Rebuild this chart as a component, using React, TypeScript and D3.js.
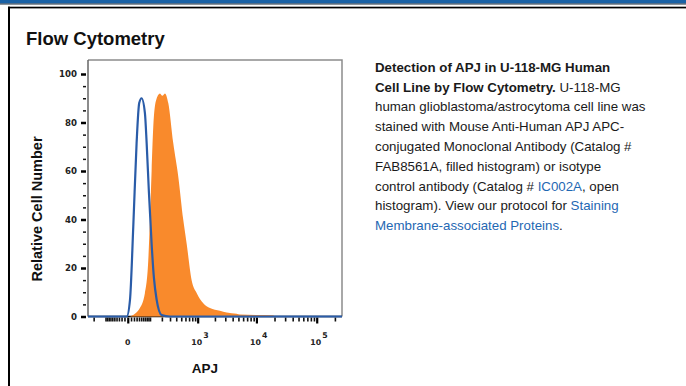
import React, { useEffect, useRef } from "react";
import * as d3 from "d3";

// APJ intensity / relative cell number
const apjValues = [-266, -3, 6.6, 17.5, 30, 41, 52, 69, 79, 93, 111, 128, 150, 197, 299, 262143];
const isotypeCounts = [0, 0, 6.8, 37, 71.5, 88, 90, 84, 71.5, 51, 30, 16, 7, 0.6, 0, 0];

const stainedValues = [6.6, 44, 69, 88.7, 99.6, 111, 123, 144.5, 181, 205, 234, 276, 349, 438, 545, 632, 779, 959, 1255, 1642, 2436, 3167, 4666, 5300, 18818, 20318];
const stainedCounts = [0, 3.5, 9.6, 23, 40, 60, 78, 89, 92, 91, 92, 88, 71.5, 57.7, 40, 30, 15, 9.7, 5.5, 3.5, 2.4, 1.7, 1.1, 0.8, 0.5, 0];

const yMajorTicks = [0, 20, 40, 60, 80, 100];
const xMajorTicks = [0, 1000, 10000, 100000];
const xMajorExponents = ["", "3", "4", "5"];

const descLines = [
  [{ t: "Detection of APJ in U-118-MG Human", b: true }],
  [{ t: "Cell Line by Flow Cytometry.", b: true }, { t: " U-118-MG" }],
  [{ t: "human glioblastoma/astrocytoma cell line was" }],
  [{ t: "stained with Mouse Anti-Human APJ APC-" }],
  [{ t: "conjugated Monoclonal Antibody (Catalog #" }],
  [{ t: "FAB8561A, filled histogram) or isotype" }],
  [{ t: "control antibody (Catalog # " }, { t: "IC002A", link: true }, { t: ", open" }],
  [{ t: "histogram). View our protocol for " }, { t: "Staining", link: true }],
  [{ t: "Membrane-associated Proteins", link: true }, { t: "." }],
];

const W = 686, H = 386;
const font = "'Liberation Sans', Arial, sans-serif";
const tickFont = "'DejaVu Sans', Verdana, sans-serif";

export default function App() {
  const ref = useRef<SVGSVGElement>(null);

  useEffect(() => {
    const svg = d3.select(ref.current);
    svg.selectAll("*").remove();

    // page frame
    svg.append("rect").attr("x", 0).attr("y", 0).attr("width", W).attr("height", 3.5).attr("fill", "#1a62a6");
    svg.append("rect").attr("x", 0).attr("y", 3.5).attr("width", W).attr("height", 1).attr("fill", "#1b2a3a");
    svg.append("rect").attr("x", 8).attr("y", 6.7).attr("width", W - 8).attr("height", 1.3).attr("fill", "#000");
    svg.append("rect").attr("x", 8).attr("y", 8).attr("width", W - 8).attr("height", 1).attr("fill", "#999");
    svg.append("rect").attr("x", 8).attr("y", 6.7).attr("width", 2).attr("height", H).attr("fill", "#000");

    svg.append("text").attr("x", 26).attr("y", 45)
      .attr("font-family", font).attr("font-weight", "bold").attr("font-size", 18.5)
      .attr("fill", "#111").text("Flow Cytometry");

    const left = 88, right = 342, top = 60, bottom = 316.5;

    const x = d3.scaleSymlog().constant(75).domain([-266, 262143]).range([left, right]);
    const y = d3.scaleLinear().domain([0, 100]).range([bottom, 74]);

    // plot frame
    svg.append("path")
      .attr("d", `M${left},${top}H${right}V${bottom}`)
      .attr("fill", "none").attr("stroke", "#8c8c8c").attr("stroke-width", 1.5);
    svg.append("line").attr("x1", left).attr("x2", left).attr("y1", top).attr("y2", bottom)
      .attr("stroke", "#666").attr("stroke-width", 1.5);

    // y axis
    const yMinor = d3.range(5, 101, 5).filter((v) => v % 20 !== 0);
    const gyMinor = svg.append("g").attr("transform", `translate(${left - 2},0)`)
      .call(d3.axisLeft(y).tickValues(yMinor).tickSize(3).tickFormat(() => ""));
    gyMinor.select(".domain").remove();
    gyMinor.selectAll("line").attr("stroke", "#111").attr("stroke-width", 1.5);

    const gy = svg.append("g").attr("transform", `translate(${left - 2},0)`)
      .call(d3.axisLeft(y).tickValues(yMajorTicks).tickSize(5).tickPadding(4));
    gy.select(".domain").remove();
    gy.selectAll("line").attr("stroke", "#000").attr("stroke-width", 2.5);
    gy.selectAll("text").attr("font-family", tickFont).attr("font-weight", "bold")
      .attr("font-size", 8.6).attr("fill", "#222");

    // x axis (logicle-like)
    const xMinor: number[] = [-200, -100, -90, -80, -70, -60, -50, -40, -30, -20, -10];
    [10, 100, 1000, 10000].forEach((d) => {
      for (let i = 1; i < 10; i++) xMinor.push(d * i);
    });
    xMinor.push(200000);
    const minorOnly = xMinor.filter((v) => !xMajorTicks.includes(v));

    const gxMinor = svg.append("g").attr("transform", `translate(0,${bottom + 1})`)
      .call(d3.axisBottom(x).tickValues(minorOnly).tickSize(4).tickFormat(() => ""));
    gxMinor.select(".domain").remove();
    gxMinor.selectAll("line").attr("stroke", "#111").attr("stroke-width", 1.6);

    const gx = svg.append("g").attr("transform", `translate(0,${bottom + 1})`)
      .call(d3.axisBottom(x).tickValues(xMajorTicks).tickSize(6).tickFormat(() => ""));
    gx.select(".domain").remove();
    gx.selectAll("line").attr("stroke", "#000").attr("stroke-width", 2.2);

    xMajorTicks.forEach((v, i) => {
      const g = svg.append("g").attr("font-family", tickFont).attr("font-weight", "bold").attr("fill", "#222");
      if (xMajorExponents[i] === "") {
        g.append("text").attr("x", x(v)).attr("y", 345).attr("text-anchor", "middle")
          .attr("font-size", 7.8).text("0");
      } else {
        g.append("text").attr("x", x(v) - 1).attr("y", 345).attr("text-anchor", "middle")
          .attr("font-size", 7.8).text("10");
        g.append("text").attr("x", x(v) + 5.5).attr("y", 337.5)
          .attr("font-size", 7.8).text(xMajorExponents[i]);
      }
    });

    svg.append("line").attr("x1", left).attr("x2", right).attr("y1", bottom).attr("y2", bottom)
      .attr("stroke", "#111").attr("stroke-width", 1.5);

    // filled histogram
    const stained = stainedValues.map((v, i) => [v, stainedCounts[i]] as [number, number]);
    svg.append("path")
      .datum(stained)
      .attr("d", d3.area<[number, number]>().x((d) => x(d[0])).y0(bottom).y1((d) => y(d[1])).curve(d3.curveMonotoneX))
      .attr("fill", "#f98a2c");

    // isotype histogram
    const isotype = apjValues.map((v, i) => [v, isotypeCounts[i]] as [number, number]);
    svg.append("path")
      .datum(isotype)
      .attr("d", d3.line<[number, number]>().x((d) => x(d[0])).y((d) => y(d[1])).curve(d3.curveMonotoneX))
      .attr("fill", "none").attr("stroke", "#2a5ca8").attr("stroke-width", 2.2);

    // axis titles
    svg.append("text").attr("x", 205).attr("y", 373).attr("text-anchor", "middle")
      .attr("font-family", font).attr("font-weight", "bold").attr("font-size", 13.5)
      .attr("fill", "#111").text("APJ");
    svg.append("text").attr("transform", "translate(42,209) rotate(-90)").attr("text-anchor", "middle")
      .attr("font-family", font).attr("font-weight", "bold").attr("font-size", 14.5)
      .attr("fill", "#111").text("Relative Cell Number");

    // description
    descLines.forEach((line, i) => {
      const t = svg.append("text").attr("x", 375).attr("y", 71.7 + i * 19.8)
        .attr("font-family", font).attr("font-size", 13.3).attr("fill", "#1a1a1a");
      line.forEach((seg: any) => {
        const s = t.append("tspan").text(seg.t);
        if (seg.b) s.attr("font-weight", "bold");
        if (seg.link) s.attr("fill", "#1f68b3");
      });
    });
  }, []);

  return (
    <svg ref={ref} width={W} height={H}
      style={{ position: "absolute", left: 0, top: 0, background: "#fff" }} />
  );
}
